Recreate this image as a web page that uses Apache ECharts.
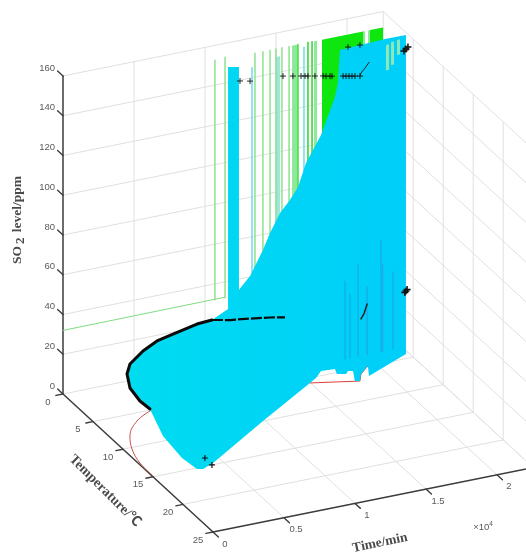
<!DOCTYPE html>
<html><head><meta charset="utf-8">
<style>html,body{margin:0;padding:0;background:#fff}#c{width:526px;height:553px;filter:blur(0.4px)}</style>
<script src="https://cdn.jsdelivr.net/npm/echarts@6/dist/echarts.min.js"></script>
</head><body><div id="c"></div>
<script>
// ---------- axis ticks (time in 10^4 min, temperature in deg C, SO2 in ppm)
const timeTicks = [0, 0.5, 1, 1.5, 2];
const timeLabels = ['0', '0.5', '1', '1.5', '2'];
const tempTicks = [0, 5, 10, 15, 20, 25];
const so2Ticks = [0, 20, 40, 60, 80, 100, 120, 140, 160];
const timeMax = 2.255, timeAxisEnd = 2.6;

// ---------- main trajectory (black line, SO2 at about 32 ppm)
const mainTime = [0.009, 0.001, 0.025, 0.096, 0.176, 0.333, 0.477, 0.613, 0.814, 0.926, 1.032, 1.152, 1.272, 1.365];
const mainTemp = [14.28, 12.8, 10.57, 8.4, 7.0, 5.45, 4.38, 3.83, 3.06, 2.91, 3.4, 3.9, 4.4, 4.7];
const mainSO2 = [32, 32, 32, 32, 32, 32, 32, 32, 32, 32, 31.8, 32.2, 32.4, 32];

// ---------- high SO2 '+' samples
const highTime = [1.035, 1.106, 1.338, 1.408, 1.465, 1.493, 1.514, 1.563, 1.62, 1.641, 1.669, 1.683, 1.761, 1.782, 1.803, 1.824, 1.845, 1.88, 1.796, 1.88];
const highTemp = [5, 5, 5, 5, 5, 5, 5, 5, 5, 5, 5, 5, 5, 5, 5, 5, 5, 5, 5, 5];
const highSO2 = [156.5, 155.4, 154.6, 153.6, 152.8, 152.4, 152.1, 151.4, 150.6, 150.2, 149.8, 149.6, 148.5, 148.2, 147.9, 147.6, 147.3, 146.8, 162.6, 162.4];
const tailTime = [1.88, 1.887, 1.915, 1.944];
const tailSO2 = [146.8, 148.2, 150.3, 152.8];
const midTime = [1.887, 1.908, 1.93];
const midSO2 = [24.5, 26.7, 31.4];
const endTime = [2.19, 2.204, 2.218, 2.196, 2.204, 2.212];
const endSO2 = [154.9, 155.7, 156.5, 33.4, 34, 34.6];
const startTime = [0.418, 0.415];
const startTemp = [13.76, 15];

// ---------- red projection on the floor
const redTimeA = [0.006, 0.011, 0.053, 0.123, 0.258, 0.396];
const redTempA = [14.7, 12.56, 10.24, 8.25, 6.23, 5.13];
const redTimeB = [1.496, 1.797, 1.847, 1.938];
const redTempB = [5.75, 6.96, 5.95, 4.96];

// ---------- cyan envelope: floor part (SO2 = 0)
const envFloorTime = [0.314, 0.285, 0.303, 0.338, 0.434, 0.986, 1.496, 1.562, 1.635, 1.728, 1.708, 1.761, 1.791, 1.82, 1.768, 1.797, 1.847, 1.938, 1.881, 2.233];
const envFloorTemp = [9.23, 13.08, 15.16, 15.34, 14.74, 10.0, 5.75, 5.2, 4.31, 4.43, 5.23, 5.5, 5.11, 5.26, 6.81, 6.96, 5.95, 4.96, 6.48, 4.31];
// cyan envelope: upper part (temperature about 5)
const envTopTime = [2.204, 2.056, 1.739, 1.725, 1.704, 1.606, 1.5, 1.444, 1.387, 1.317, 1.246, 1.197, 1.106, 1.049, 1.028, 1.028, 0.951, 0.951];
const envTopSO2 = [162.8, 162.9, 161.9, 145.5, 138.8, 121.1, 108.5, 97.3, 91.5, 86, 76.9, 69.1, 57.3, 53.1, 51.4, 163.6, 164.7, 43];

// ---------- green projection on the T = 0 wall
const wallLineTime = [0, 1.141];
const wallLineSO2 = [32, 32.3];
const greenThinTime = [1.07, 1.141, 1.352, 1.408, 1.458, 1.5, 1.542, 1.592, 1.725, 1.754];
const greenThinTop = [152.6, 153, 152, 152, 152, 152, 152, 152, 152, 152];
const greenStrongTime = [1.725, 1.655, 1.754];
const greenSolidStart = [1.824, 2.162];
const greenSolidEnd = [2.113, 2.254];
const paleStart = [1.613, 1.768, 2.113, 2.148];
const paleEnd = [1.655, 1.789, 2.127, 2.162];
const cyanThinTime = [1.331, 1.697];
const cyanThinTop = [145, 150];
const cyanPaleStart = [1.5];
const cyanPaleEnd = [1.528];
const cyanPaleTop = [148];
// pale stripes over the cyan body at the far end
const stripeStart = [2.063, 2.099, 2.141];
const stripeEnd = [2.085, 2.12, 2.162];
const stripeTop = [159.8, 160.8, 161.2];
const stripeBase = [147, 149.2, 153.6];
// darker stems in the cyan body
const darkTime = [1.775, 1.81, 1.866, 1.93, 2.028, 2.04, 2.113];
const darkTop = [45, 38, 52, 40, 62, 50, 45];

// ---------- projection of (time, temperature, SO2) into the plotting plane
const project = (t, T, z) => [63 + 6 * T + 142 * t, 394 + 5.52 * T - 28.6 * t - 1.9875 * z];
const GAP = [NaN, NaN];

const gridPts = [];
const seg = (a, b) => gridPts.push(project(...a), project(...b), GAP);
timeTicks.slice(1).forEach(t => { seg([t, 0, 0], [t, 0, 160]); seg([t, 0, 0], [t, 25, 0]); });
tempTicks.slice(1).forEach(T => { seg([0, T, 0], [timeMax, T, 0]); seg([timeMax, T, 0], [timeMax, T, 160]); });
so2Ticks.forEach(z => { seg([0, 0, z], [timeMax, 0, z]); seg([timeMax, 0, z], [timeMax, 25, z]); });
seg([timeMax, 0, 0], [timeMax, 0, 160]);
seg([timeMax, 0, 0], [timeMax, 25, 0]);

const axisPts = [project(0, 0, 160), project(0, 0, 0), project(0, 25, 0), project(timeAxisEnd, 25, 0)];
const tickPts = [];
const tick = (a, b) => tickPts.push(project(...a), project(...b), GAP);
so2Ticks.forEach(z => tick([0, 0, z], [0, -0.9, z]));
tempTicks.forEach(T => tick([0, T, 0], [-0.05, T, 0]));
timeTicks.forEach(t => tick([t, 25, 0], [t, 25.9, 0]));

const line = (pts, color, width, z2, extra) => Object.assign({
  type: 'line', data: pts, symbol: 'none', silent: true, z: z2, clip: false, animation: false,
  lineStyle: Object.assign({ color, width, cap: 'round', join: 'round' }, (extra || {}).style || {})
}, (extra || {}).series || {});

// polygons: every polygon is a list of projected vertices
const polySeries = (polys, color, z2) => ({
  type: 'custom', coordinateSystem: 'cartesian2d', silent: true, z: z2, animation: false, clip: false,
  data: polys.map((p, i) => [p[0][0], p[0][1], i]),
  encode: { x: 0, y: 1 },
  renderItem: (params, api) => ({
    type: 'polygon',
    shape: { points: polys[params.dataIndex].map(p => api.coord(p)) },
    style: { fill: color, stroke: null }
  })
});

const band = (a, b, lo, hiA, hiB, T) => [project(a, T, lo), project(b, T, lo), project(b, T, hiB), project(a, T, hiA)];
const stems = (times, tops, T, base) => {
  const out = [];
  times.forEach((t, i) => out.push(project(t, T, base), project(t, T, tops[i]), GAP));
  return out;
};

const greenSolid = greenSolidStart.map((a, i) => band(a, greenSolidEnd[i], 32, 152, 152, 0));
const greenPale = paleStart.map((a, i) => band(a, paleEnd[i], 32, 152, 152, 0));
const cyanPale = cyanPaleStart.map((a, i) => band(a, cyanPaleEnd[i], 32, cyanPaleTop[i], cyanPaleTop[i], 0));
const greenThin = stems(greenThinTime, greenThinTop, 0, 32);
const greenStrong = stems(greenStrongTime, greenStrongTime.map(() => 152), 0, 32);
const cyanThin = stems(cyanThinTime, cyanThinTop, 0, 32);

const envelope = [
  ...envFloorTime.map((t, i) => project(t, envFloorTemp[i], 0)),
  ...envTopTime.map((t, i) => project(t, 5, envTopSO2[i])),
  ...mainTime.slice(0, 10).reverse().map((t, i) => project(t, mainTemp[9 - i], mainSO2[9 - i]))
];
const stripes = stripeStart.map((a, i) => band(a, stripeEnd[i], stripeBase[i], stripeTop[i], stripeTop[i], 5));
const darkPts = stems(darkTime, darkTop, 5, 6);

const redA = redTimeA.map((t, i) => project(t, redTempA[i], 0));
const redB = redTimeB.map((t, i) => project(t, redTempB[i], 0));
const wallLine = wallLineTime.map((t, i) => project(t, 0, wallLineSO2[i]));
const mainPts = mainTime.map((t, i) => project(t, mainTemp[i], mainSO2[i]));
const highPts = highTime.map((t, i) => project(t, highTemp[i], highSO2[i]));
const tailPts = tailTime.map((t, i) => project(t, 5, tailSO2[i]));
const midPts = midTime.map((t, i) => project(t, 5, midSO2[i]));
const endPts = endTime.map((t, i) => project(t, 5, endSO2[i]));
const startPts = startTime.map((t, i) => project(t, startTemp[i], 0));

const plus = 'path://M5 0V10M0 5H10M5 5';
const markers = (pts, size, z2, bw) => ({
  type: 'scatter', data: pts, symbol: plus, symbolSize: size, silent: true, z: z2, animation: false, clip: false,
  itemStyle: { color: 'none', borderColor: '#111', borderWidth: bw, opacity: 1 }
});

// text
const tickFont = '9.5px "Liberation Sans", Arial, sans-serif';
const titleFont = 'bold 14px "Liberation Serif", "Times New Roman", serif';
const texts = [];
so2Ticks.forEach(z => { const p = project(0, 0, z); texts.push({ p, dx: -8, dy: -8, text: String(z), align: 'right', font: tickFont, fill: '#5a5a5a' }); });
tempTicks.forEach(T => { const p = project(0, T, 0); texts.push({ p, dx: -15, dy: 8, text: String(T), align: 'center', font: tickFont, fill: '#5a5a5a' }); });
timeTicks.forEach((t, i) => { const p = project(t, 25, 0); texts.push({ p, dx: 12, dy: 12, text: timeLabels[i], align: 'center', font: tickFont, fill: '#5a5a5a' }); });
texts.push({ p: [483, 527], dx: 0, dy: 0, text: '{a|\u00d710}{b|4}', align: 'center', font: tickFont, fill: '#5a5a5a',
  rich: { a: { font: tickFont, fill: '#5a5a5a' }, b: { font: '6.5px "Liberation Sans", Arial', fill: '#5a5a5a', verticalAlign: 'top', padding: [0, 0, 5, 0] } } });
texts.push({ p: [380, 543], dx: 0, dy: 0, text: 'Time/min', align: 'center', font: 'bold 13.5px "Liberation Serif", serif', fill: '#4a4a4a', rotate: 11.8 });
texts.push({ p: [105, 491], dx: 0, dy: 0, text: 'Temperature/\u2103', align: 'center', font: 'bold 14px "Liberation Serif", "Noto Sans CJK SC", serif', fill: '#4a4a4a', rotate: -45 });
texts.push({ p: [18, 220], dx: 0, dy: 0, text: '{a|SO}{b|2}{a| level/ppm}', align: 'center', font: titleFont, fill: '#4a4a4a', rotate: 90,
  rich: { a: { font: 'bold 13.5px "Liberation Serif", serif', fill: '#4a4a4a' }, b: { font: 'bold 13px "Liberation Serif", serif', fill: '#4a4a4a', padding: [6, 2, 0, 2] } } });

const textSeries = {
  type: 'custom', coordinateSystem: 'cartesian2d', silent: true, z: 30, animation: false, clip: false,
  data: texts.map(o => [o.p[0], o.p[1]]), encode: { x: 0, y: 1 },
  renderItem: (params, api) => {
    const o = texts[params.dataIndex];
    const c = api.coord(o.p);
    return {
      type: 'text', x: c[0] + o.dx, y: c[1] + o.dy, rotation: (o.rotate || 0) * Math.PI / 180,
      style: { text: o.text, font: o.font, fill: o.fill, align: o.align, verticalAlign: 'middle', rich: o.rich }
    };
  }
};

const cyanFill = { type: 'linear', x: 0, y: 0, x2: 1, y2: 0, global: false,
  colorStops: [{ offset: 0, color: '#00dcf0' }, { offset: 1, color: '#00cefa' }] };

const chart = echarts.init(document.getElementById('c'), null, { renderer: 'canvas' });
chart.setOption({
  animation: false, backgroundColor: '#ffffff',
  grid: { left: 0, right: 0, top: 0, bottom: 0 },
  xAxis: { type: 'value', min: 0, max: 526, show: false },
  yAxis: { type: 'value', min: 0, max: 553, inverse: true, show: false },
  series: [
    line(gridPts, '#e0e0e0', 1, 1),
    line(tickPts, '#3c3c3c', 1.4, 2),
    line(axisPts, '#3c3c3c', 1.5, 2),
    line(wallLine, '#7fdc7f', 1, 3),
    line(greenThin, '#86e086', 1.4, 3),
    line(greenStrong, '#3fdc3f', 1.4, 3),
    line(cyanThin, '#72dcec', 1.5, 3),
    polySeries(cyanPale, '#9ce8d8', 3),
    polySeries(greenPale, '#8ee89a', 3),
    polySeries(greenSolid, '#0ee60e', 3),
    line(redA, '#c8504e', 1, 4, { series: { smooth: 0.4 } }),
    line(redB, '#d8403e', 1, 4),
    polySeries([envelope], cyanFill, 5),
    line(darkPts, '#1aa8e6', 1.2, 6),
    polySeries(stripes, '#8ce8b8', 6),
    line(mainPts.slice(0, 10), '#0a0a0a', 3, 8),
    line(mainPts.slice(9), '#0a0a0a', 2.2, 8, { style: { type: [11, 2], cap: 'butt' } }),
    line(tailPts, '#222', 1, 8),
    line(midPts, '#222', 1.5, 8),
    markers(highPts, 6, 9, 0.9),
    markers(endPts, 7, 9, 1.5),
    markers(startPts, 6, 9, 1.2),
    textSeries
  ]
});
</script></body></html>
